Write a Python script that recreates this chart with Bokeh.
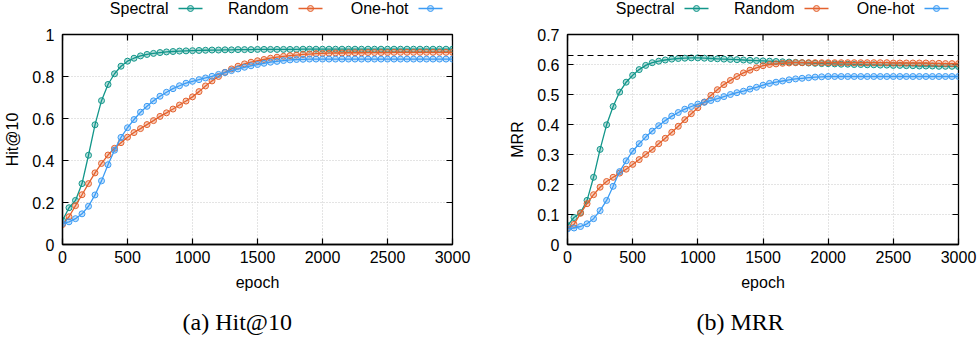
import math
from bokeh.plotting import figure
from bokeh.layouts import row, column
from bokeh.models import Range1d, FixedTicker, Span, Title
from bokeh.embed import file_html
from bokeh.resources import INLINE
from bokeh.core.properties import value

# ---------------- data ----------------
epochs = list(range(0, 3001, 50))

series_names = ["Spectral", "Random", "One-hot"]
series_colors = ["#12968a", "#e4622e", "#3c9cf4"]

hit_spectral = [0.115, 0.175, 0.210, 0.290, 0.425, 0.570, 0.685, 0.762, 0.813, 0.849,
                0.873, 0.887, 0.898, 0.905, 0.910, 0.914, 0.917, 0.919, 0.921, 0.922,
                0.923, 0.924, 0.925, 0.926, 0.926, 0.927, 0.927, 0.928, 0.928, 0.928,
                0.929, 0.929, 0.929, 0.929, 0.929, 0.929, 0.929, 0.930, 0.930, 0.930,
                0.930, 0.930, 0.930, 0.930, 0.930, 0.930, 0.930, 0.930, 0.930, 0.930,
                0.930, 0.930, 0.930, 0.930, 0.930, 0.930, 0.930, 0.930, 0.930, 0.930,
                0.930]
hit_random = [0.095, 0.132, 0.185, 0.237, 0.290, 0.341, 0.386, 0.426, 0.458, 0.485,
              0.511, 0.533, 0.552, 0.571, 0.590, 0.610, 0.627, 0.645, 0.664, 0.683,
              0.703, 0.728, 0.755, 0.779, 0.800, 0.820, 0.836, 0.849, 0.860, 0.868,
              0.875, 0.881, 0.887, 0.892, 0.896, 0.899, 0.902, 0.905, 0.907, 0.909,
              0.910, 0.911, 0.912, 0.912, 0.913, 0.913, 0.913, 0.914, 0.914, 0.914,
              0.914, 0.915, 0.915, 0.915, 0.915, 0.915, 0.915, 0.915, 0.915, 0.915,
              0.915]
hit_onehot = [0.100, 0.108, 0.123, 0.146, 0.182, 0.236, 0.303, 0.380, 0.449, 0.510,
              0.556, 0.595, 0.630, 0.658, 0.684, 0.706, 0.725, 0.742, 0.756, 0.768,
              0.777, 0.785, 0.793, 0.801, 0.810, 0.819, 0.828, 0.836, 0.844, 0.851,
              0.857, 0.863, 0.868, 0.872, 0.876, 0.879, 0.881, 0.882, 0.883, 0.883,
              0.883, 0.883, 0.883, 0.883, 0.883, 0.883, 0.883, 0.883, 0.883, 0.883,
              0.883, 0.883, 0.883, 0.883, 0.883, 0.883, 0.883, 0.883, 0.883, 0.883,
              0.883]

mrr_spectral = [0.063, 0.090, 0.106, 0.147, 0.224, 0.317, 0.399, 0.460, 0.508, 0.541,
                0.564, 0.583, 0.597, 0.606, 0.611, 0.615, 0.618, 0.620, 0.621, 0.622,
                0.622, 0.621, 0.620, 0.619, 0.618, 0.617, 0.616, 0.615, 0.614, 0.613,
                0.612, 0.611, 0.610, 0.609, 0.608, 0.607, 0.606, 0.605, 0.604, 0.603,
                0.603, 0.602, 0.601, 0.601, 0.600, 0.600, 0.599, 0.599, 0.598, 0.598,
                0.597, 0.597, 0.596, 0.596, 0.595, 0.595, 0.595, 0.594, 0.594, 0.594,
                0.593]
mrr_random = [0.054, 0.067, 0.104, 0.136, 0.166, 0.191, 0.210, 0.224, 0.238, 0.251,
              0.267, 0.283, 0.300, 0.317, 0.336, 0.354, 0.374, 0.394, 0.416, 0.436,
              0.456, 0.475, 0.497, 0.516, 0.533, 0.547, 0.560, 0.572, 0.581, 0.589,
              0.596, 0.600, 0.602, 0.604, 0.605, 0.606, 0.606, 0.606, 0.606, 0.606,
              0.606, 0.606, 0.606, 0.606, 0.606, 0.606, 0.606, 0.606, 0.606, 0.606,
              0.605, 0.605, 0.605, 0.605, 0.605, 0.605, 0.604, 0.604, 0.603, 0.603,
              0.603]
mrr_onehot = [0.052, 0.055, 0.060, 0.069, 0.086, 0.113, 0.147, 0.194, 0.243, 0.279,
              0.311, 0.336, 0.358, 0.378, 0.396, 0.413, 0.428, 0.440, 0.451, 0.460,
              0.468, 0.474, 0.480, 0.486, 0.493, 0.500, 0.506, 0.511, 0.518, 0.524,
              0.531, 0.537, 0.541, 0.545, 0.549, 0.552, 0.554, 0.556, 0.558, 0.559,
              0.560, 0.560, 0.560, 0.560, 0.560, 0.560, 0.560, 0.560, 0.560, 0.560,
              0.560, 0.560, 0.560, 0.560, 0.560, 0.560, 0.560, 0.560, 0.560, 0.560,
              0.560]
mrr_reference = 0.63

x_ticks = [0, 500, 1000, 1500, 2000, 2500, 3000]
hit_ticks = [0, 0.2, 0.4, 0.6, 0.8, 1.0]
hit_tick_labels = ["0", "0.2", "0.4", "0.6", "0.8", "1"]
mrr_ticks = [0, 0.1, 0.2, 0.3, 0.4, 0.5, 0.6, 0.7]
mrr_tick_labels = ["0", "0.1", "0.2", "0.3", "0.4", "0.5", "0.6", "0.7"]

SANS = "Liberation Sans"
SERIF = "Liberation Serif"
FS = "16px"
PW = 490


def style_axis(ax):
    ax.axis_line_color = "black"
    ax.axis_line_width = 1.3
    ax.major_tick_line_color = "black"
    ax.major_tick_line_width = 1.2
    ax.major_tick_in = 6
    ax.major_tick_out = 0
    ax.minor_tick_line_color = None
    ax.major_label_text_font = SANS
    ax.major_label_text_font_size = FS
    ax.major_label_text_color = "black"
    ax.axis_label_text_font = SANS
    ax.axis_label_text_font_style = "normal"
    ax.axis_label_text_font_size = FS
    ax.axis_label_text_color = "black"


def make_legend(ml, mr):
    # the legend strip's frame lines up with the plot frame below it; use panel pixel units
    lg = figure(width=PW, height=24, x_range=Range1d(ml, PW - mr), y_range=Range1d(0, 24),
                output_backend="svg", toolbar_location=None,
                x_axis_location=None, y_axis_location=None,
                min_border_left=ml, min_border_right=mr, min_border_top=0, min_border_bottom=0)
    lg.grid.visible = False
    lg.outline_line_color = None
    sample_end = PW - mr - 10
    for i, (name, col) in enumerate(zip(series_names, series_colors)):
        s1 = sample_end - 120 * (2 - i)
        s0 = s1 - 24
        lg.text(x=[s0 - 10], y=[16], text=[name], text_align="right",
                text_baseline="middle", text_font=value(SANS), text_font_size=FS,
                text_color="black")
        lg.line(x=[s0, s1], y=[16, 16], line_color=col, line_width=1.3)
        lg.scatter(x=[(s0 + s1) / 2], y=[16], marker="circle", size=6,
                   line_color=col, fill_color=col, fill_alpha=0.3, line_width=1)
    return lg


def make_panel(data, ymax, yticks, ylabels, ylab, caption, ml, mr, cap_offset, ref=None):
    p = figure(width=PW, height=325, x_range=Range1d(0, 3000), y_range=Range1d(0, ymax),
               output_backend="svg", toolbar_location=None,
               min_border_left=ml, min_border_right=mr, min_border_top=10,
               min_border_bottom=105)
    xax = p.below[0]
    yax = p.left[0]
    xax.ticker = FixedTicker(ticks=x_ticks)
    yax.ticker = FixedTicker(ticks=yticks)
    style_axis(xax)
    style_axis(yax)
    xax.axis_label = "epoch"
    xax.major_label_standoff = 6
    xax.axis_label_standoff = 8
    yax.axis_label = ylab
    yax.major_label_standoff = 8
    yax.axis_label_standoff = 8
    yax.major_label_overrides = {t: l for t, l in zip(yticks, ylabels)}
    p.grid.grid_line_color = "#c8c8c8"
    p.grid.grid_line_dash = "1 2"
    p.grid.grid_line_width = 1
    p.outline_line_color = "black"
    p.outline_line_width = 1.3
    # mirror ticks on the top and right edges (half of each dash is clipped by the frame)
    p.scatter(x_ticks, [ymax] * len(x_ticks), marker="dash", angle=math.pi / 2,
              size=12, line_color="black", line_width=1.2)
    p.scatter([3000] * len(yticks), yticks, marker="dash", size=12,
              line_color="black", line_width=1.2)
    if ref is not None:
        p.add_layout(Span(location=ref, dimension="width", line_color="black",
                          line_dash="6 4", line_width=1.2))
    for vals, col in zip(data, series_colors):
        p.line(epochs, vals, line_color=col, line_width=1.3)
        p.scatter(epochs, vals, marker="circle", size=6, line_color=col,
                  fill_color=col, fill_alpha=0.3, line_width=1)
    p.add_layout(Title(text=caption, text_font=SERIF, text_font_size="24px",
                       text_font_style="normal", text_color="black", align="left",
                       offset=cap_offset, standoff=26), "below")
    return p


pa = make_panel([hit_spectral, hit_random, hit_onehot], 1.0, hit_ticks, hit_tick_labels,
                "Hit@10", "(a)  Hit@10", 62, 38, 120)
pb = make_panel([mrr_spectral, mrr_random, mrr_onehot], 0.7, mrr_ticks, mrr_tick_labels,
                "MRR", "(b)  MRR", 77, 22, 129, ref=mrr_reference)

la = make_legend(62, 38)
lb = make_legend(77, 22)

layout = row(column(la, pa, spacing=0), column(lb, pb, spacing=0), spacing=0)
open("out.html", "w").write(file_html(layout, INLINE))
